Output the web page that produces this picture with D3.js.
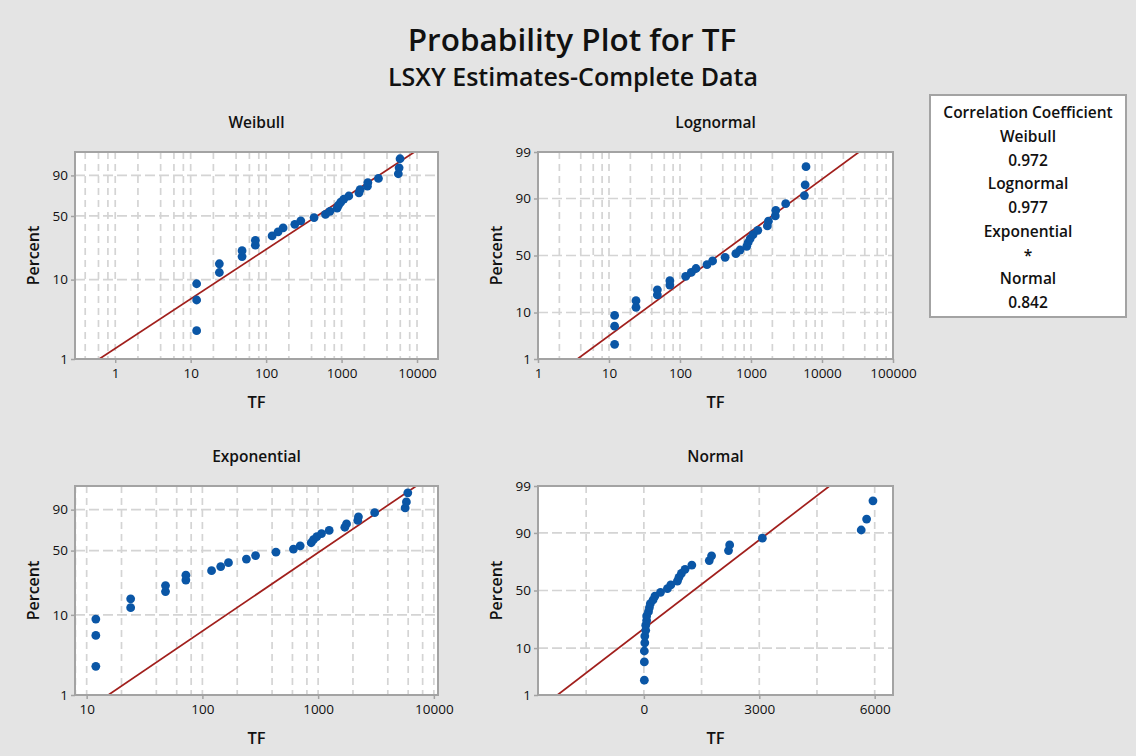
<!DOCTYPE html>
<html>
<head>
<meta charset="utf-8">
<script src="https://cdn.jsdelivr.net/npm/d3@7"></script>
<style>
  body { margin: 0; background: #e4e4e4; }
  svg { display: block; font-family: "Open Sans", "Noto Sans", sans-serif; }
</style>
</head>
<body>
<svg id="chart" width="1136" height="756"></svg>
<script>
// ---- Data: times to failure (TF) and their plotting positions (percent) ----
const tf = [12, 12, 12, 24, 24, 48, 48, 72, 72, 120, 144, 168, 240, 288, 432,
            612, 700, 871, 912, 975, 1070, 1247, 1700, 1760, 2200, 2230, 3080,
            5650, 5790, 5955];
const percent = [2.3, 5.6, 8.9, 12.2, 15.5, 18.8, 22.0, 25.3, 28.6, 31.9, 35.2,
                 38.5, 41.8, 45.1, 48.4, 51.6, 54.9, 58.2, 61.5, 64.8, 68.1,
                 71.4, 74.7, 78.0, 81.3, 84.5, 87.8, 91.1, 94.4, 97.7];

// Fitted distribution parameters (least squares on X and Y)
const weibullShape = 0.637, weibullScale = 840;
const lognormalLoc = 5.844, lognormalScale = 1.963;
const exponentialMean = 1530;
const normalMean = 1290, normalSd = 1520;

// Correlation coefficients shown in the side box
const distNames = ["Weibull", "Lognormal", "Exponential", "Normal"];
const corrValues = ["0.972", "0.977", "*", "0.842"];

// Axis tick labels
const weibullXTicks = [1, 10, 100, 1000, 10000];
const lognormalXTicks = [1, 10, 100, 1000, 10000, 100000];
const exponentialXTicks = [10, 100, 1000, 10000];
const normalXTicks = [0, 3000, 6000];
const normalXGrid = [-1500, 0, 1500, 3000, 4500, 6000];
const extremeYTicks = [1, 10, 50, 90];
const normalYTicks = [1, 10, 50, 90, 99];
const percentGrid = [10, 50, 90];
const logGridMultiples = [1, 2, 4, 6, 8];

// ---- Probability scale transforms ----
function probit(p) {
  const a = [-3.969683028665376e+01, 2.209460984245205e+02, -2.759285104469687e+02,
             1.383577518672690e+02, -3.066479806614716e+01, 2.506628277459239e+00];
  const b = [-5.447609879822406e+01, 1.615858368580409e+02, -1.556989798598866e+02,
             6.680131188771972e+01, -1.328068155288572e+01];
  const c = [-7.784894002430293e-03, -3.223964580411365e-01, -2.400758277161838e+00,
             -2.549671500676650e+00, 4.374664141464968e+00, 2.938163982698783e+00];
  const d = [7.784695709041462e-03, 3.224671290700398e-01, 2.445134137142996e+00,
             3.754408661907416e+00];
  const pl = 0.02425, ph = 1 - pl;
  let q, r;
  if (p < pl) {
    q = Math.sqrt(-2 * Math.log(p));
    return (((((c[0]*q+c[1])*q+c[2])*q+c[3])*q+c[4])*q+c[5]) / ((((d[0]*q+d[1])*q+d[2])*q+d[3])*q+1);
  }
  if (p <= ph) {
    q = p - 0.5; r = q * q;
    return (((((a[0]*r+a[1])*r+a[2])*r+a[3])*r+a[4])*r+a[5])*q / (((((b[0]*r+b[1])*r+b[2])*r+b[3])*r+b[4])*r+1);
  }
  q = Math.sqrt(-2 * Math.log(1 - p));
  return -(((((c[0]*q+c[1])*q+c[2])*q+c[3])*q+c[4])*q+c[5]) / ((((d[0]*q+d[1])*q+d[2])*q+d[3])*q+1);
}
const extremeScore = p => Math.log(-Math.log(1 - p / 100));
const normalScore = p => probit(p / 100);

// Fitted-line quantiles (percent -> TF)
const weibullQ = p => weibullScale * Math.pow(-Math.log(1 - p / 100), 1 / weibullShape);
const lognormalQ = p => Math.exp(lognormalLoc + lognormalScale * probit(p / 100));
const exponentialQ = p => exponentialMean * -Math.log(1 - p / 100);
const normalQ = p => normalMean + normalSd * probit(p / 100);

// ---- Layout ----
const svg = d3.select("#chart");
const W = 1136, H = 756;
const colL = [75, 438], colR = [538, 893];
const rowT = [152, 359], rowB = [486, 695];

const COLORS = {
  frame: "#a3a3a3", grid: "#d4d4d4", line: "#a11f1c", point: "#0a56a6", text: "#111"
};

svg.append("rect").attr("width", W).attr("height", H).attr("fill", "#e4e4e4");

svg.append("text").attr("x", 572).attr("y", 51).attr("text-anchor", "middle")
  .attr("font-size", 31.5).attr("font-weight", 600).attr("fill", COLORS.text)
  .text("Probability Plot for TF");
svg.append("text").attr("x", 573).attr("y", 86).attr("text-anchor", "middle")
  .attr("font-size", 25).attr("font-weight", 600).attr("fill", COLORS.text)
  .text("LSXY Estimates-Complete Data");

function logGrid(domain) {
  const out = [];
  const k0 = Math.floor(Math.log10(domain[0])), k1 = Math.ceil(Math.log10(domain[1]));
  for (let k = k0; k <= k1; k++) {
    logGridMultiples.forEach(m => {
      const v = m * Math.pow(10, k);
      if (v > domain[0] * 1.0001 && v < domain[1] * 0.9999) out.push(v);
    });
  }
  return out;
}

let clipId = 0;
function drawPanel(cfg) {
  const [x0, x1] = cfg.cols, [y0, y1] = cfg.rows;
  const g = svg.append("g");
  const x = (cfg.log ? d3.scaleLog() : d3.scaleLinear()).domain(cfg.xDomain).range([x0, x1]);
  const y = d3.scaleLinear().domain([cfg.t(1), cfg.t(99)]).range([y1, y0]);

  const id = "clip" + (clipId++);
  g.append("clipPath").attr("id", id).append("rect")
    .attr("x", x0).attr("y", y0).attr("width", x1 - x0).attr("height", y1 - y0);

  g.append("rect").attr("x", x0).attr("y", y0).attr("width", x1 - x0).attr("height", y1 - y0)
    .attr("fill", "#fff");

  // dashed grid
  g.append("g").selectAll("line").data(cfg.xGrid).join("line")
    .attr("x1", d => x(d)).attr("x2", d => x(d)).attr("y1", y0).attr("y2", y1)
    .attr("stroke", COLORS.grid).attr("stroke-width", 1.7).attr("stroke-dasharray", "7,5");
  g.append("g").selectAll("line").data(percentGrid).join("line")
    .attr("x1", x0).attr("x2", x1).attr("y1", d => y(cfg.t(d))).attr("y2", d => y(cfg.t(d)))
    .attr("stroke", COLORS.grid).attr("stroke-width", 1.7).attr("stroke-dasharray", "10,4");

  // fitted line
  const ends = [1, 99];
  g.append("path").attr("clip-path", `url(#${id})`)
    .attr("d", d3.line().x(p => x(cfg.q(p))).y(p => y(cfg.t(p)))(ends))
    .attr("fill", "none").attr("stroke", COLORS.line).attr("stroke-width", 1.7);

  // observations
  g.append("g").selectAll("circle").data(tf).join("circle")
    .attr("cx", d => x(d)).attr("cy", (d, i) => y(cfg.t(percent[i])))
    .attr("r", 4.4).attr("fill", COLORS.point);

  // frame
  g.append("rect").attr("x", x0).attr("y", y0).attr("width", x1 - x0).attr("height", y1 - y0)
    .attr("fill", "none").attr("stroke", COLORS.frame).attr("stroke-width", 2);

  // axes
  const xa = g.append("g").attr("transform", `translate(0,${y1})`)
    .call(d3.axisBottom(x).tickValues(cfg.xTicks).tickFormat(d3.format("d")).tickSize(4).tickPadding(5));
  const ya = g.append("g").attr("transform", `translate(${x0},0)`)
    .call(d3.axisLeft(y).tickValues(cfg.yTicks.map(cfg.t))
      .tickFormat((v, i) => cfg.yTicks[i]).tickSize(4).tickPadding(3));
  [xa, ya].forEach(a => {
    a.select(".domain").remove();
    a.selectAll(".tick line").attr("stroke", COLORS.frame).attr("stroke-width", 1.5);
    a.selectAll(".tick text").attr("font-size", 13.5).attr("font-weight", 500).attr("fill", COLORS.text)
      .attr("font-family", "\"Open Sans\", \"Noto Sans\", sans-serif");
  });

  const cx = (x0 + x1) / 2, cy = (y0 + y1) / 2;
  g.append("text").attr("x", cx).attr("y", y0 - 24).attr("text-anchor", "middle")
    .attr("font-size", 15.5).attr("font-weight", 600).attr("fill", COLORS.text).text(cfg.title);
  g.append("text").attr("x", cx).attr("y", y1 + 49).attr("text-anchor", "middle")
    .attr("font-size", 16.5).attr("font-weight", 600).attr("fill", COLORS.text).text("TF");
  g.append("text").attr("transform", `translate(${x0 - 36},${cy}) rotate(-90)`)
    .attr("text-anchor", "middle").attr("font-size", 16).attr("font-weight", 600)
    .attr("fill", COLORS.text).text("Percent");
}

drawPanel({
  title: "Weibull", cols: colL, rows: rowT, log: true, xDomain: [0.293, 18970],
  xTicks: weibullXTicks, xGrid: logGrid([0.293, 18970]),
  t: extremeScore, q: weibullQ, yTicks: extremeYTicks
});
drawPanel({
  title: "Lognormal", cols: colR, rows: rowT, log: true, xDomain: [1, 100000],
  xTicks: lognormalXTicks, xGrid: logGrid([1, 100000]),
  t: normalScore, q: lognormalQ, yTicks: normalYTicks
});
drawPanel({
  title: "Exponential", cols: colL, rows: rowB, log: true, xDomain: [7.93, 10860],
  xTicks: exponentialXTicks, xGrid: logGrid([7.93, 10860]),
  t: extremeScore, q: exponentialQ, yTicks: extremeYTicks
});
drawPanel({
  title: "Normal", cols: colR, rows: rowB, log: false, xDomain: [-2752, 6476],
  xTicks: normalXTicks, xGrid: normalXGrid,
  t: normalScore, q: normalQ, yTicks: normalYTicks
});

// ---- Correlation coefficient box ----
const box = svg.append("g");
box.append("rect").attr("x", 930).attr("y", 95).attr("width", 196).attr("height", 222)
  .attr("fill", "#fff").attr("stroke", COLORS.frame).attr("stroke-width", 2);
const boxLines = ["Correlation Coefficient"];
distNames.forEach((n, i) => { boxLines.push(n); boxLines.push(corrValues[i]); });
box.selectAll("text").data(boxLines).join("text")
  .attr("x", 1028).attr("y", (d, i) => 118.3 + i * 23.7).attr("text-anchor", "middle")
  .attr("font-size", 15.5).attr("font-weight", 600).attr("fill", COLORS.text).text(d => d);
</script>
</body>
</html>
